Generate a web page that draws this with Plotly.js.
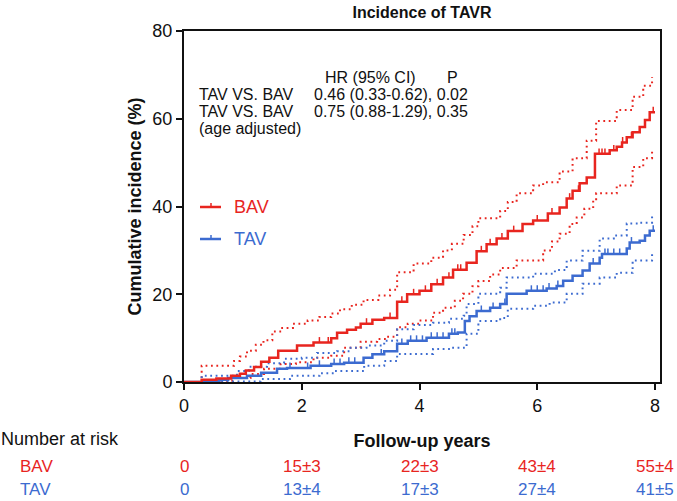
<!DOCTYPE html>
<html>
<head>
<meta charset="utf-8">
<script src="https://cdn.plot.ly/plotly-3.0.1.min.js"></script>
<style>html,body{margin:0;padding:0;background:#fff;}#chart{width:677px;height:501px;}</style>
</head>
<body>
<div id="chart"></div>
<script>
// ---- Data ----
const bavX = [0,0.3,0.55,0.8,0.95,1.05,1.19,1.31,1.45,1.6,1.92,2.2,2.5,2.6,2.77,2.92,3.0,3.2,3.4,3.62,3.79,4.0,4.2,4.4,4.57,4.8,4.97,5.14,5.31,5.5,5.75,5.93,6.18,6.38,6.5,6.6,6.72,6.84,6.98,7.23,7.35,7.44,7.52,7.62,7.74,7.83,7.91,8.0];
const bavY = [0,0.5,0.8,1.4,1.9,2.6,3.4,4.6,5.5,7.1,8.3,9.0,10.0,11.2,11.9,12.4,13.3,14.2,14.6,18.3,20.0,20.8,22.3,23.8,25.6,27.2,29.8,31.4,32.7,34.4,36.0,36.8,38.4,39.8,41.8,43.6,45.3,46.6,52.0,52.8,53.6,54.6,55.8,56.9,58.1,59.7,61.5,61.5];
const bavUpX = [0,0.3,0.85,0.95,1.07,1.22,1.35,1.5,1.65,1.85,2.1,2.3,2.5,2.65,2.85,3.05,3.3,3.5,3.62,3.9,4.2,4.4,4.55,4.75,4.9,5.0,5.37,5.5,5.65,5.93,6.1,6.38,6.6,6.84,7.0,7.35,7.62,7.8,7.95];
const bavUpY = [0,3.7,4.8,5.8,7.1,8.5,9.5,11.5,12.3,13.3,14.0,14.8,15.6,16.6,17.6,18.7,19.7,21.0,25.0,27.0,28.3,30.0,31.5,33.5,35.5,37.3,39.0,41.0,43.0,44.8,45.5,48.0,51.0,55.0,59.5,62.0,65.0,67.5,69.5];
const bavLoX = [0,0.5,0.85,1.13,1.36,1.64,1.9,2.2,2.5,2.72,3.0,3.28,3.45,3.62,3.8,4.0,4.23,4.4,4.6,4.74,4.9,5.0,5.2,5.37,5.65,6.1,6.25,6.38,6.55,6.67,6.8,6.95,7.0,7.35,7.62,7.8,7.95];
const bavLoY = [0,0.3,0.9,1.8,3.0,4.1,4.5,5.5,6.0,7.8,9.2,9.8,10.3,12.5,13.3,14.0,15.8,16.9,18.5,20.1,21.8,23.0,24.5,26.0,27.7,30.0,32.0,33.8,36.0,37.5,39.5,41.4,43.0,44.8,49.0,51.0,53.0];

const tavX = [0,0.5,0.6,0.75,1.07,1.31,1.58,1.75,2.15,2.5,2.72,3.05,3.2,3.4,3.62,3.8,4.12,4.5,4.65,4.77,4.85,4.97,5.2,5.37,5.48,5.82,6.16,6.33,6.44,6.6,6.77,6.89,7.06,7.1,7.52,7.57,7.74,7.83,7.91,8.0];
const tavY = [0,0.3,0.5,0.9,1.4,2.1,3.0,3.2,3.7,4.1,4.4,5.5,6.3,7.0,8.7,9.4,10.1,11.0,11.3,13.9,15.0,16.2,16.9,17.8,20.1,20.8,21.3,21.9,23.1,24.2,25.4,27.0,28.3,29.2,30.4,31.8,32.2,33.4,34.5,34.5];
const tavUpX = [0,0.3,0.9,1.1,1.41,1.7,2.0,2.26,2.6,2.83,3.1,3.4,3.62,3.9,4.23,4.5,4.75,4.8,5.0,5.37,5.48,5.93,6.3,6.5,6.77,7.06,7.3,7.52,7.74,7.95];
const tavUpY = [0,1.4,2.5,3.5,4.3,5.3,5.5,6.6,7.0,7.8,8.3,9.4,12.0,13.0,13.5,14.4,15.1,17.8,20.1,21.5,23.8,24.7,25.5,27.7,29.9,32.7,33.4,36.1,36.3,38.6];
const tavLoX = [0,0.6,1.3,1.8,2.3,2.55,3.06,3.4,3.62,4.23,4.55,4.8,5.0,5.37,5.5,5.93,6.21,6.5,6.77,7.06,7.35,7.62,7.95];
const tavLoY = [0,0.1,0.7,1.4,2.0,2.5,3.7,4.8,6.4,7.5,7.8,11.0,13.9,14.6,16.7,17.4,18.1,20.1,22.4,23.8,24.9,27.7,29.5];

const bavCensor = [2.3,2.45,3.1,3.5,3.7,3.9,4.1,4.3,4.5,4.65,4.7,5.05,5.2,5.4,5.6,6.0,6.25,6.55,6.7,7.05,7.1,7.15,7.3,7.45,7.6,7.97];
const tavCensor = [1.8,2.1,2.3,2.55,2.65,2.8,2.9,3.35,3.7,3.85,3.95,4.05,4.2,4.3,4.4,4.55,4.6,5.05,5.25,5.45,5.9,6.0,6.1,6.2,6.35,6.95,7.15,7.2,7.3,7.4,7.6,7.97];

const riskTimes = [0,2,4,6,8];
const bavRisk = ['0','15±3','22±3','43±4','55±4'];
const tavRisk = ['0','13±4','17±3','27±4','41±5'];

const hrHeader = ['HR (95% CI)','P'];
const hrRows = [
  ['TAV VS. BAV','0.46 (0.33-0.62), 0.02'],
  ['TAV VS. BAV','0.75 (0.88-1.29), 0.35'],
  ['(age adjusted)','']
];

// ---- Styling ----
const RED = '#e8251f';
const BLUE = '#3c6bd0';
const FONT = 'Liberation Sans, Arial, sans-serif';

function stepAt(xs, ys, x) {
  let v = ys[0];
  for (let i = 0; i < xs.length; i++) { if (xs[i] <= x) v = ys[i]; }
  return v;
}

function line(x, y, color, dash, w) {
  return {x: x, y: y, type: 'scatter', mode: 'lines', line: {color: color, width: w, dash: dash, shape: 'hv'}, showlegend: false, hoverinfo: 'skip'};
}
function censor(cx, xs, ys, color) {
  return {x: cx, y: cx.map(v => stepAt(xs, ys, v) + 0.6), type: 'scatter', mode: 'markers',
    marker: {symbol: 'line-ns', size: 4, line: {color: color, width: 1.5}}, showlegend: false, hoverinfo: 'skip'};
}

const DOT = '1.8px,3.6px';
const traces = [
  line(bavUpX, bavUpY, RED, DOT, 2),
  line(bavLoX, bavLoY, RED, DOT, 2),
  line(tavUpX, tavUpY, BLUE, DOT, 2),
  line(tavLoX, tavLoY, BLUE, DOT, 2),
  line(tavX, tavY, BLUE, 'solid', 2.5),
  line(bavX, bavY, RED, 'solid', 2.5),
  censor(tavCensor, tavX, tavY, BLUE),
  censor(bavCensor, bavX, bavY, RED)
];

// plot area in px: left 184, right 660, top 31, bottom 382
const L = 184, R = 660, T = 31, B = 382;
const px2x = p => (p - L) / (R - L);
const py2y = p => (B - p) / (B - T);

const ann = [];
const tFont = {family: FONT, size: 16, color: '#111'};
ann.push({xref: 'paper', yref: 'paper', x: px2x(323), y: py2y(77), xanchor: 'left', yanchor: 'middle', text: hrHeader[0], showarrow: false, font: tFont});
ann.push({xref: 'paper', yref: 'paper', x: px2x(445), y: py2y(77), xanchor: 'left', yanchor: 'middle', text: hrHeader[1], showarrow: false, font: tFont});
hrRows.forEach((r, i) => {
  const yy = py2y(94 + i * 17);
  ann.push({xref: 'paper', yref: 'paper', x: px2x(197), y: yy, xanchor: 'left', yanchor: 'middle', text: r[0], showarrow: false, font: tFont});
  if (r[1]) ann.push({xref: 'paper', yref: 'paper', x: px2x(312), y: yy, xanchor: 'left', yanchor: 'middle', text: r[1], showarrow: false, font: tFont});
});

// legend
const legendItems = [['BAV', RED, 207], ['TAV', BLUE, 239]];
const shapes = [];
legendItems.forEach(it => {
  ann.push({xref: 'paper', yref: 'paper', x: px2x(232), y: py2y(it[2]), xanchor: 'left', yanchor: 'middle', text: it[0], showarrow: false, font: {family: FONT, size: 18, color: it[1]}});
  shapes.push({type: 'line', xref: 'paper', yref: 'paper', x0: px2x(200), x1: px2x(221), y0: py2y(it[2]), y1: py2y(it[2]), line: {color: it[1], width: 2.5}});
  shapes.push({type: 'line', xref: 'paper', yref: 'paper', x0: px2x(211), x1: px2x(211), y0: py2y(it[2]), y1: py2y(it[2] - 4), line: {color: it[1], width: 1.5}});
});

// number at risk table
ann.push({xref: 'paper', yref: 'paper', x: px2x(0), y: py2y(439), xanchor: 'left', yanchor: 'middle', text: 'Number at risk', showarrow: false, borderpad: 0, font: {family: FONT, size: 18, color: '#111'}});
[['BAV', RED, 466, bavRisk], ['TAV', BLUE, 489, tavRisk]].forEach(r => {
  ann.push({xref: 'paper', yref: 'paper', x: px2x(19), y: py2y(r[2]), xanchor: 'left', yanchor: 'middle', text: r[0], showarrow: false, borderpad: 0, font: {family: FONT, size: 17, color: r[1]}});
  riskTimes.forEach((t, i) => {
    ann.push({xref: 'x', yref: 'paper', x: t, y: py2y(r[2]), xanchor: 'center', yanchor: 'middle', text: r[3][i], showarrow: false, borderpad: 0, font: {family: FONT, size: 17, color: r[1]}});
  });
});

const layout = {
  width: 677, height: 501,
  margin: {l: L, r: 677 - R, t: T, b: 501 - B},
  paper_bgcolor: '#fff', plot_bgcolor: '#fff',
  font: {family: FONT, color: '#111'},
  title: {text: '<b>Incidence of TAVR</b>', font: {family: FONT, size: 16, color: '#111'}, x: 0.5, xref: 'paper', y: 1 - 12 / 501, yanchor: 'middle'},
  xaxis: {
    range: [0, 8 * (R - L) / (655 - L)], tickvals: [0, 2, 4, 6, 8], ticks: 'outside', ticklen: 6, tickwidth: 2, tickcolor: '#111',
    showline: true, linewidth: 2, linecolor: '#111', mirror: true, showgrid: false, zeroline: false,
    tickfont: {family: FONT, size: 18, color: '#111'},
    title: {text: '<b>Follow-up years</b>', font: {family: FONT, size: 18, color: '#111'}, standoff: 20}
  },
  yaxis: {
    range: [0, 80], tickvals: [0, 20, 40, 60, 80], ticks: 'outside', ticklen: 6, tickwidth: 2, tickcolor: '#111',
    showline: true, linewidth: 2, linecolor: '#111', mirror: true, showgrid: false, zeroline: false,
    tickfont: {family: FONT, size: 18, color: '#111'},
    title: {text: '<b>Cumulative incidence (%)</b>', font: {family: FONT, size: 18, color: '#111'}, standoff: 6}
  },
  annotations: ann,
  shapes: shapes,
  showlegend: false
};

Plotly.newPlot('chart', traces, layout, {displayModeBar: false, staticPlot: true});
</script>
</body>
</html>
